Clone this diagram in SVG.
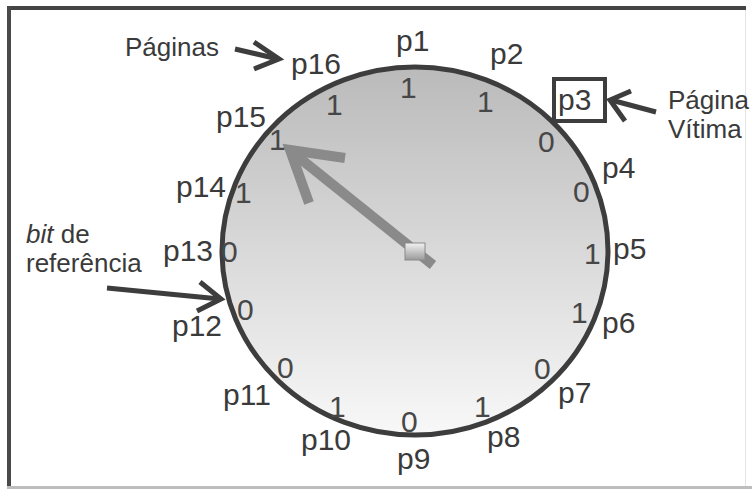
<svg xmlns="http://www.w3.org/2000/svg" width="752" height="489" viewBox="0 0 752 489">
  <defs>
    <linearGradient id="face" x1="0" y1="0" x2="0" y2="1">
      <stop offset="0" stop-color="#bababa"/>
      <stop offset="1" stop-color="#f8f8f8"/>
    </linearGradient>
    <linearGradient id="hub" x1="0" y1="0" x2="0" y2="1">
      <stop offset="0" stop-color="#f2f2f2"/>
      <stop offset="1" stop-color="#9a9a9a"/>
    </linearGradient>
    <style>
      .lbl { font-family: "Liberation Sans", Arial, sans-serif; font-size: 30px; fill: #3a3a3a; }
      .bit { font-family: "Liberation Sans", Arial, sans-serif; font-size: 30px; fill: #474747; }
      .note { font-family: "Liberation Sans", Arial, sans-serif; font-size: 26px; fill: #3a3a3a; }
      .arr { fill: none; stroke: #3d3d3d; stroke-width: 5; stroke-linecap: butt; stroke-linejoin: miter; }
    </style>
  </defs>
  <rect x="0" y="0" width="752" height="489" fill="#ffffff"/>
  <!-- frame -->
  <g id="frame">
    <rect x="7" y="6" width="739" height="4" fill="#444444"/>
    <rect x="7" y="6" width="4" height="483" fill="#4a4a4a"/>
    <rect x="745" y="10" width="1" height="477" fill="#e4e4e4"/>
    <rect x="7" y="486" width="745" height="3" fill="#bdbdbd"/>
  </g>
  <!-- clock -->
  <g id="clock">
    <ellipse cx="415" cy="251" rx="193" ry="184" fill="url(#face)" stroke="#3d3d3d" stroke-width="5"/>
  </g>
  <!-- hand -->
  <g id="hand">
    <line x1="433" y1="265" x2="292" y2="152" stroke="#8a8a8a" stroke-width="10"/>
    <polyline points="345,158 290,150 309,203" fill="none" stroke="#8a8a8a" stroke-width="10" stroke-linejoin="miter"/>
    <rect x="405" y="243" width="20" height="17" fill="url(#hub)" stroke="#8a8a8a" stroke-width="1"/>
  </g>
  <!-- page labels -->
  <g id="pages">
    <text class="lbl" x="396" y="51">p1</text>
    <text class="lbl" x="490" y="64">p2</text>
    <g id="p3">
      <rect x="554" y="79" width="51" height="42" fill="#ffffff" stroke="#3d3d3d" stroke-width="4"/>
      <text class="lbl" x="558" y="110">p3</text>
    </g>
    <text class="lbl" x="602" y="178">p4</text>
    <text class="lbl" x="613" y="259">p5</text>
    <text class="lbl" x="602" y="333">p6</text>
    <text class="lbl" x="558" y="403">p7</text>
    <text class="lbl" x="487" y="447">p8</text>
    <text class="lbl" x="397" y="469">p9</text>
    <text class="lbl" x="301" y="450">p10</text>
    <text class="lbl" x="223" y="405">p11</text>
    <text class="lbl" x="172" y="336">p12</text>
    <text class="lbl" x="163" y="261">p13</text>
    <text class="lbl" x="176" y="197">p14</text>
    <text class="lbl" x="216" y="127">p15</text>
    <text class="lbl" x="291" y="74">p16</text>
  </g>
  <!-- reference bits -->
  <g id="bits">
    <text class="bit" x="400" y="98">1</text>
    <text class="bit" x="477" y="112">1</text>
    <text class="bit" x="538" y="152">0</text>
    <text class="bit" x="573" y="202">0</text>
    <text class="bit" x="584" y="264">1</text>
    <text class="bit" x="571" y="323">1</text>
    <text class="bit" x="534" y="379">0</text>
    <text class="bit" x="474" y="417">1</text>
    <text class="bit" x="401" y="432">0</text>
    <text class="bit" x="329" y="417">1</text>
    <text class="bit" x="277" y="378">0</text>
    <text class="bit" x="237" y="320">0</text>
    <text class="bit" x="221" y="262">0</text>
    <text class="bit" x="235" y="203">1</text>
    <text class="bit" x="269" y="150">1</text>
    <text class="bit" x="326" y="115">1</text>
  </g>
  <!-- annotations -->
  <g id="note-paginas">
    <text class="note" x="125" y="56">Páginas</text>
  </g>
  <g id="note-vitima">
    <text class="note" x="668" y="109">Página</text>
    <text class="note" x="668" y="138">Vítima</text>
  </g>
  <g id="note-bit">
    <text class="note" x="26" y="243"><tspan font-style="italic">bit</tspan> de</text>
    <text class="note" x="26" y="272">referência</text>
  </g>
  <g id="connectors">
    <line class="arr" x1="235" y1="49" x2="278" y2="59"/>
    <polyline class="arr" points="254,42 279,59 254,69"/>
    <line class="arr" x1="656" y1="112" x2="611" y2="100"/>
    <polyline class="arr" points="631,91 610,100 625,121"/>
    <line class="arr" x1="107" y1="288" x2="220" y2="299"/>
    <polyline class="arr" points="200,282 221,299 197,311"/>
  </g>
</svg>
